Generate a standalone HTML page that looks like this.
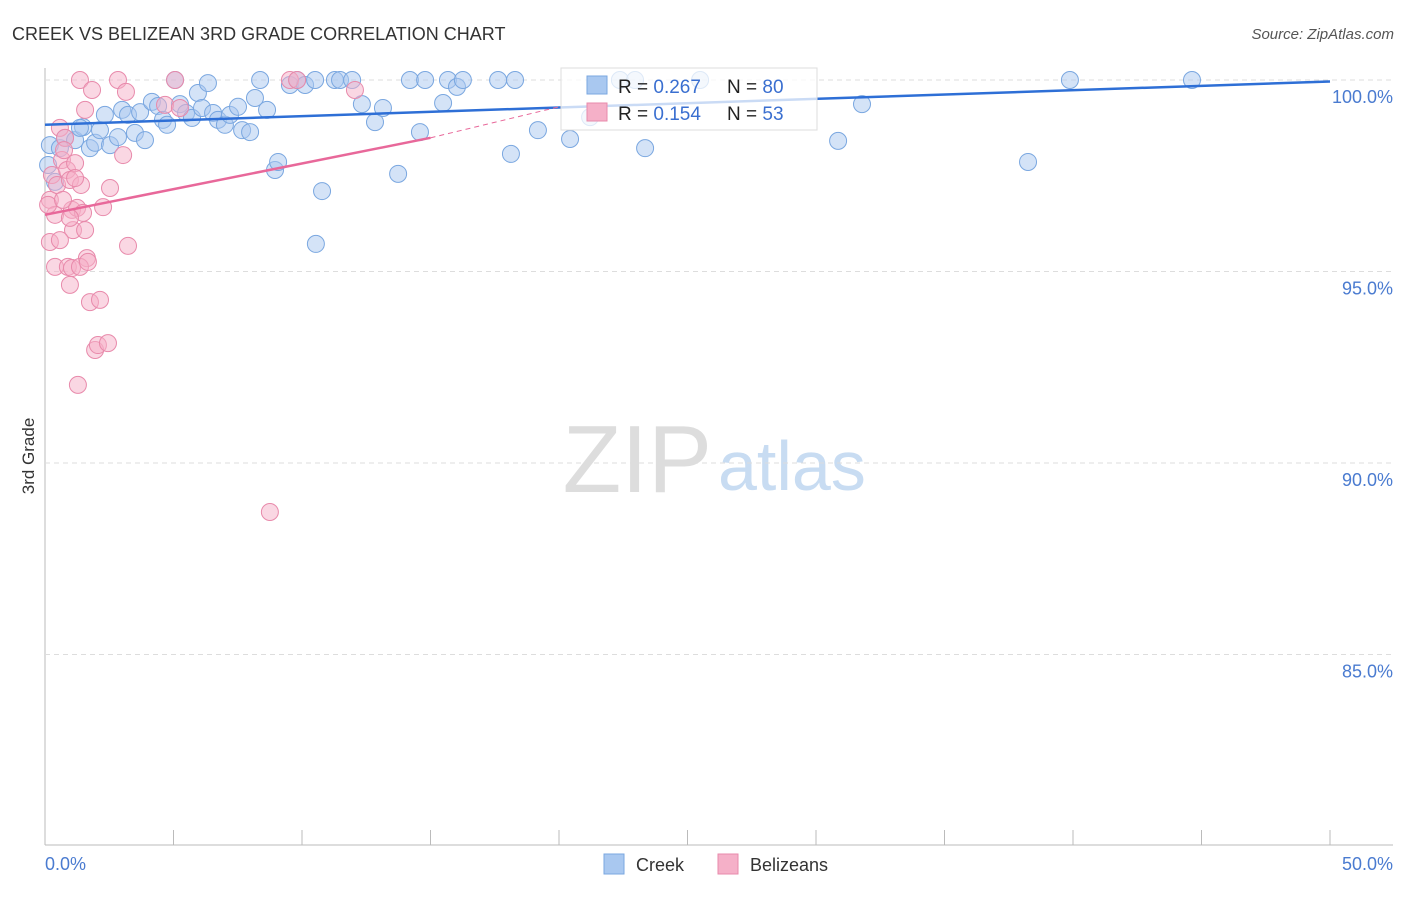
<!DOCTYPE html>
<html><head><meta charset="utf-8"><style>
body{margin:0;background:#fff;font-family:"Liberation Sans",sans-serif}
svg text{font-family:"Liberation Sans",sans-serif}
</style></head><body>
<svg id="chart" width="1406" height="892">
<text x="12" y="40" font-size="18" fill="#333">CREEK VS BELIZEAN 3RD GRADE CORRELATION CHART</text>
<text x="1394" y="39" font-size="15" fill="#555" font-style="italic" text-anchor="end">Source: ZipAtlas.com</text>
<text transform="translate(34,456) rotate(-90)" font-size="17" fill="#333" text-anchor="middle">3rd Grade</text>
<text x="712" y="492" font-size="96" fill="#ddd" font-family="Liberation Serif" text-anchor="end">ZIP</text>
<text x="718" y="490" font-size="70" fill="#c8dcf2">atlas</text>
<g id="grid"></g><g id="pts"></g><g id="trend"></g>
<g>
<rect x="561" y="68" width="256" height="62" fill="#fff" fill-opacity="0.75" stroke="#ddd"/>
<rect x="587" y="76" width="20" height="18" fill="#a9c8f0" stroke="#7aa7e0"/>
<rect x="587" y="103" width="20" height="18" fill="#f5b0c8" stroke="#e88aab"/>
<text x="618" y="93" font-size="19" fill="#222">R = <tspan fill="#3a6fd0">0.267</tspan>  <tspan x="727">N = </tspan><tspan fill="#3a6fd0">80</tspan></text>
<text x="618" y="120" font-size="19" fill="#222">R = <tspan fill="#3a6fd0">0.154</tspan>  <tspan x="727">N = </tspan><tspan fill="#3a6fd0"> 53</tspan></text>
</g>
<g>
<rect x="604" y="854" width="20" height="20" fill="#a9c8f0" stroke="#7aa7e0"/>
<text x="636" y="871" font-size="18" fill="#333">Creek</text>
<rect x="718" y="854" width="20" height="20" fill="#f5b0c8" stroke="#e88aab"/>
<text x="750" y="871" font-size="18" fill="#333">Belizeans</text>
</g>
</svg>
<script>
const creekX=[0.19,0.58,0.78,1.17,1.48,1.75,1.95,2.14,2.33,2.53,2.84,3.00,3.23,3.50,3.70,3.89,4.16,4.40,4.59,4.75,5.06,5.25,5.49,5.72,5.95,6.11,6.34,6.54,6.73,7.00,7.20,7.51,7.67,7.98,8.17,8.37,8.64,8.95,9.07,9.53,9.81,10.12,10.51,10.78,10.54,11.28,11.48,11.95,12.33,12.84,13.15,13.74,14.20,14.59,14.79,15.49,15.68,16.03,16.26,17.63,18.29,18.13,19.18,20.43,21.21,22.37,22.96,23.35,25.49,30.86,31.79,38.25,39.88,44.63,0.12,0.39,1.36];
const creekY=[98.30,98.22,98.49,98.43,98.77,98.22,98.36,98.69,99.09,98.30,98.51,99.22,99.09,98.62,99.16,98.43,99.43,99.32,98.96,98.83,100,99.37,99.14,99.01,99.66,99.27,99.92,99.14,98.96,98.83,99.09,99.30,98.69,98.64,99.53,100,99.22,97.65,97.86,99.87,100,99.87,100,97.10,95.72,100,100,100,99.37,98.90,99.27,97.55,100,98.64,100,99.40,100,99.82,100,100,100,98.07,98.69,98.46,99.03,100,100,98.22,100,98.41,99.37,97.86,100,100,97.78,97.34,98.75];
const belX=[0.19,0.27,0.39,0.47,0.58,0.66,0.78,0.86,0.97,1.05,1.09,1.17,1.25,1.28,1.36,1.40,1.48,1.56,1.63,1.75,1.83,1.95,2.06,2.14,2.26,2.45,2.53,2.84,3.04,3.15,3.23,0.19,0.39,0.58,0.89,0.97,1.05,1.36,1.67,4.67,5.06,5.25,8.75,9.53,9.81,12.06,0.12,0.70,0.74,1.17,1.56,0.97];
const belY=[96.87,97.52,96.48,97.26,98.75,97.91,98.49,97.65,97.39,96.61,96.08,97.83,96.66,92.04,100,97.26,96.53,99.22,95.35,94.20,99.74,92.95,93.08,94.26,96.68,93.13,97.18,100,98.04,99.69,95.67,95.77,95.12,95.82,95.12,94.65,95.09,95.12,95.25,99.35,100,99.27,88.72,100,100,99.74,96.74,96.87,98.17,97.44,96.08,96.40];
const yTicks=[100,95,90,85];
const yTickLabels=["100.0%","95.0%","90.0%","85.0%"];
const xTicks=[0,5,10,15,20,25,30,35,40,45,50];
const creekTrend=[[0,98.83],[50,99.96]];
const belTrend=[[0,96.48],[15,98.49],[20,99.3]];
const NS="http://www.w3.org/2000/svg";
const sx=v=>45+v/50*1285, sy=v=>80+(100-v)*38.3;
function mk(t,a,p){const e=document.createElementNS(NS,t);for(const k in a)e.setAttribute(k,a[k]);p.appendChild(e);return e;}
const grid=document.getElementById('grid');
mk('line',{x1:45,y1:68,x2:45,y2:845,stroke:'#bbb'},grid);
mk('line',{x1:45,y1:845,x2:1393,y2:845,stroke:'#bbb'},grid);
yTicks.forEach((v,i)=>{
 const g=mk('line',{x1:45,y1:sy(v),x2:1393,y2:sy(v),stroke:'#ddd','stroke-dasharray':'5,4'},grid);
 
 
 const t=mk('text',{x:1393,y:sy(v)+23,'font-size':18,fill:'#4a7bd0','text-anchor':'end'},grid);t.textContent=yTickLabels[i];
 
 
});
xTicks.forEach(v=>{const l=mk('line',{x1:sx(v),y1:830,x2:sx(v),y2:845,stroke:'#bbb'},grid);
 
 });
[[0,"0.0%",'start',45],[50,"50.0%",'end',1393]].forEach(a=>{const t=mk('text',{x:a[3],y:870,'font-size':18,fill:'#4a7bd0','text-anchor':a[2]},grid);t.textContent=a[1];
 
 });
const pts=document.getElementById('pts');
creekX.forEach((x,i)=>{const c=mk('circle',{cx:sx(x),cy:sy(creekY[i]),r:8.5,fill:'#a9c8f0','fill-opacity':0.5,stroke:'#7aa7e0','stroke-width':1},pts);
 
 });
belX.forEach((x,i)=>{const c=mk('circle',{cx:sx(x),cy:sy(belY[i]),r:8.5,fill:'#f5b0c8','fill-opacity':0.5,stroke:'#e88aab','stroke-width':1},pts);
 
 });
const tr=document.getElementById('trend');
const l1=mk('line',{x1:sx(creekTrend[0][0]),y1:sy(creekTrend[0][1]),x2:sx(creekTrend[1][0]),y2:sy(creekTrend[1][1]),stroke:'#2e6fd6','stroke-width':2.5},tr);


const l2=mk('line',{x1:sx(belTrend[0][0]),y1:sy(belTrend[0][1]),x2:sx(belTrend[1][0]),y2:sy(belTrend[1][1]),stroke:'#e8689a','stroke-width':2.5},tr);


const l3=mk('line',{x1:sx(belTrend[1][0]),y1:sy(belTrend[1][1]),x2:sx(belTrend[2][0]),y2:sy(belTrend[2][1]),stroke:'#e8689a','stroke-width':1,'stroke-dasharray':'5,4'},tr);


</script>
</body></html>
